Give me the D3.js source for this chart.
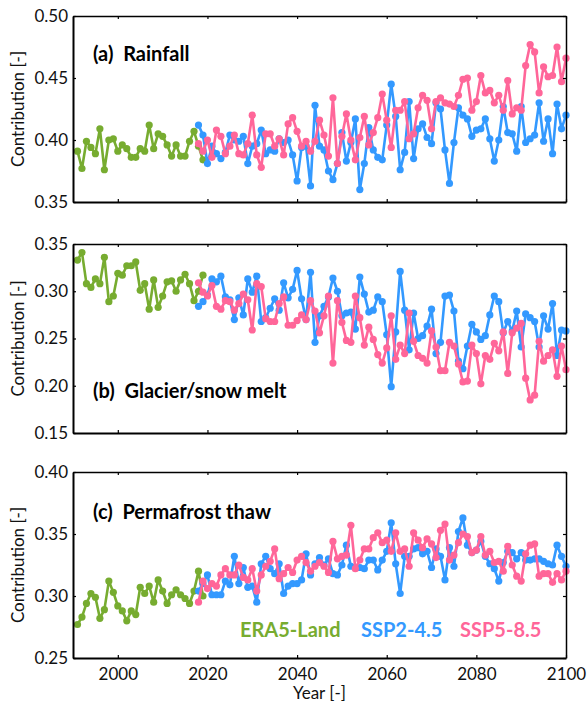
<!DOCTYPE html>
<html>
<head>
  <meta charset="utf-8">
  <script src="https://d3js.org/d3.v7.min.js"></script>
  <style>
    body { margin: 0; background: #fff; }
    text { font-family: Lato, "Open Sans", sans-serif; }
  </style>
</head>
<body>
  <div id="chart"></div>
  <script>
  // years
  var eraYears = d3.range(1991, 2020);
  var sspYears = d3.range(2018, 2101);

  // (a) Rainfall
  var rainEra = [0.391, 0.377, 0.399, 0.394, 0.389, 0.409, 0.376, 0.400, 0.401, 0.391, 0.396, 0.393, 0.386, 0.386, 0.393, 0.391, 0.412, 0.393, 0.405, 0.403, 0.396, 0.387, 0.396, 0.387, 0.387, 0.399, 0.407, 0.395, 0.384];
  var rainSsp2 = [0.412, 0.404, 0.381, 0.395, 0.389, 0.385, 0.390, 0.404, 0.400, 0.399,
    0.403, 0.381, 0.395, 0.397, 0.408, 0.389, 0.392, 0.391, 0.401, 0.398,
    0.400, 0.388, 0.367, 0.394, 0.395, 0.363, 0.428, 0.395, 0.392, 0.375,
    0.368, 0.381, 0.406, 0.383, 0.398, 0.417, 0.360, 0.381, 0.410, 0.392,
    0.386, 0.384, 0.412, 0.445, 0.419, 0.376, 0.390, 0.431, 0.385, 0.409,
    0.413, 0.402, 0.397, 0.430, 0.425, 0.392, 0.365, 0.398, 0.426, 0.420,
    0.417, 0.403, 0.408, 0.409, 0.417, 0.401, 0.383, 0.400, 0.427, 0.406,
    0.405, 0.391, 0.427, 0.398, 0.401, 0.404, 0.430, 0.399, 0.417, 0.389,
    0.429, 0.409, 0.420];
  var rainSsp5 = [0.397, 0.391, 0.400, 0.386, 0.408, 0.403, 0.389, 0.395, 0.404, 0.389,
    0.388, 0.397, 0.420, 0.388, 0.378, 0.405, 0.405, 0.395, 0.401, 0.388,
    0.413, 0.418, 0.407, 0.395, 0.399, 0.391, 0.399, 0.416, 0.404, 0.387,
    0.434, 0.381, 0.403, 0.421, 0.400, 0.384, 0.402, 0.419, 0.396, 0.406,
    0.418, 0.437, 0.416, 0.394, 0.424, 0.424, 0.431, 0.401, 0.405, 0.426,
    0.436, 0.432, 0.409, 0.431, 0.434, 0.430, 0.429, 0.427, 0.436, 0.449,
    0.450, 0.424, 0.431, 0.452, 0.438, 0.440, 0.430, 0.436, 0.424, 0.448,
    0.421, 0.426, 0.424, 0.460, 0.477, 0.471, 0.438, 0.459, 0.451, 0.452,
    0.475, 0.447, 0.466];

  // (b) Glacier/snow melt
  var meltEra = [0.333, 0.341, 0.308, 0.304, 0.313, 0.308, 0.336, 0.289, 0.295, 0.319, 0.317, 0.327, 0.327, 0.331, 0.301, 0.308, 0.281, 0.312, 0.283, 0.295, 0.310, 0.311, 0.300, 0.312, 0.318, 0.308, 0.290, 0.300, 0.317];
  var meltSsp2 = [0.284, 0.289, 0.296, 0.313, 0.310, 0.316, 0.294, 0.291, 0.270, 0.293,
    0.275, 0.313, 0.299, 0.316, 0.268, 0.272, 0.282, 0.292, 0.280, 0.309,
    0.293, 0.302, 0.322, 0.292, 0.270, 0.320, 0.246, 0.274, 0.284, 0.294,
    0.314, 0.300, 0.274, 0.277, 0.278, 0.260, 0.315, 0.297, 0.278, 0.280,
    0.294, 0.289, 0.254, 0.199, 0.257, 0.321, 0.280, 0.238, 0.277, 0.250,
    0.253, 0.263, 0.281, 0.234, 0.246, 0.295, 0.296, 0.279, 0.226, 0.218,
    0.242, 0.265, 0.257, 0.249, 0.253, 0.275, 0.295, 0.289, 0.256, 0.268,
    0.258, 0.279, 0.241, 0.276, 0.272, 0.268, 0.241, 0.274, 0.260, 0.287,
    0.232, 0.259, 0.258];
  var meltSsp5 = [0.309, 0.299, 0.295, 0.306, 0.284, 0.281, 0.290, 0.289, 0.280, 0.287,
    0.297, 0.291, 0.259, 0.308, 0.305, 0.271, 0.268, 0.268, 0.287, 0.294,
    0.264, 0.264, 0.269, 0.275, 0.270, 0.290, 0.279, 0.256, 0.274, 0.295,
    0.224, 0.290, 0.267, 0.248, 0.246, 0.295, 0.272, 0.243, 0.262, 0.249,
    0.233, 0.224, 0.240, 0.274, 0.228, 0.243, 0.234, 0.277, 0.247, 0.232,
    0.229, 0.224, 0.258, 0.241, 0.216, 0.216, 0.246, 0.242, 0.223, 0.204,
    0.205, 0.243, 0.234, 0.202, 0.232, 0.228, 0.245, 0.237, 0.257, 0.213,
    0.256, 0.261, 0.266, 0.208, 0.185, 0.190, 0.247, 0.226, 0.232, 0.238,
    0.210, 0.242, 0.217];

  // (c) Permafrost thaw
  var permEra = [0.277, 0.283, 0.294, 0.302, 0.299, 0.282, 0.289, 0.312, 0.303, 0.292, 0.288, 0.280, 0.288, 0.285, 0.307, 0.302, 0.308, 0.295, 0.313, 0.304, 0.294, 0.301, 0.305, 0.301, 0.298, 0.294, 0.304, 0.320, 0.300];
  var permSsp2 = [0.304, 0.310, 0.317, 0.301, 0.301, 0.301, 0.312, 0.309, 0.332, 0.310,
    0.323, 0.307, 0.308, 0.295, 0.326, 0.332, 0.322, 0.318, 0.326, 0.302,
    0.308, 0.310, 0.310, 0.313, 0.334, 0.317, 0.326, 0.331, 0.325, 0.330,
    0.318, 0.317, 0.325, 0.341, 0.324, 0.323, 0.323, 0.322, 0.329, 0.329,
    0.321, 0.329, 0.336, 0.359, 0.326, 0.302, 0.332, 0.332, 0.338, 0.339,
    0.334, 0.336, 0.323, 0.338, 0.332, 0.313, 0.339, 0.324, 0.352, 0.363,
    0.341, 0.335, 0.337, 0.344, 0.332, 0.326, 0.322, 0.312, 0.327, 0.336,
    0.335, 0.330, 0.335, 0.329, 0.329, 0.330, 0.330, 0.328, 0.326, 0.325,
    0.341, 0.332, 0.324];
  var permSsp5 = [0.295, 0.312, 0.306, 0.310, 0.308, 0.317, 0.322, 0.317, 0.317, 0.325,
    0.315, 0.313, 0.322, 0.304, 0.317, 0.324, 0.328, 0.338, 0.314, 0.318,
    0.323, 0.319, 0.329, 0.332, 0.327, 0.320, 0.324, 0.327, 0.324, 0.319,
    0.344, 0.330, 0.332, 0.333, 0.357, 0.322, 0.329, 0.338, 0.338, 0.347,
    0.351, 0.343, 0.345, 0.336, 0.351, 0.336, 0.338, 0.324, 0.351, 0.345,
    0.339, 0.346, 0.342, 0.331, 0.353, 0.358, 0.329, 0.333, 0.343, 0.350,
    0.348, 0.335, 0.337, 0.348, 0.333, 0.336, 0.327, 0.328, 0.320, 0.340,
    0.325, 0.316, 0.312, 0.334, 0.341, 0.342, 0.316, 0.318, 0.318, 0.311,
    0.318, 0.313, 0.320];

  var xTicks = [2000, 2020, 2040, 2060, 2080, 2100];
  var seriesNames = ["ERA5-Land", "SSP2-4.5", "SSP5-8.5"];
  var colors = ["#77ac30", "#3399ff", "#ff6699"];

  var panels = [
    { label: "(a)  Rainfall", era: rainEra, s2: rainSsp2, s5: rainSsp5, dom: [0.35, 0.50],
      ticks: [0.35, 0.40, 0.45, 0.50], top: 16, bottom: 202, labelY: 61 },
    { label: "(b)  Glacier/snow melt", era: meltEra, s2: meltSsp2, s5: meltSsp5, dom: [0.15, 0.35],
      ticks: [0.15, 0.20, 0.25, 0.30, 0.35], top: 244, bottom: 433, labelY: 398 },
    { label: "(c)  Permafrost thaw", era: permEra, s2: permSsp2, s5: permSsp5, dom: [0.25, 0.40],
      ticks: [0.25, 0.30, 0.35, 0.40], top: 472, bottom: 658, labelY: 519 }
  ];

  var width = 587, height = 704;
  var left = 73, right = 566;

  var svg = d3.select("#chart").append("svg")
      .attr("width", width)
      .attr("height", height);

  var x = d3.scaleLinear().domain([1990, 2100]).range([left, right]);

  panels.forEach(function(p, i) {
    var y = d3.scaleLinear().domain(p.dom).range([p.bottom, p.top]);
    var g = svg.append("g");

    var line = d3.line()
        .x(function(d) { return x(d[0]); })
        .y(function(d) { return y(d[1]); });

    var sets = [
      d3.zip(eraYears, p.era),
      d3.zip(sspYears, p.s2),
      d3.zip(sspYears, p.s5)
    ];

    sets.forEach(function(data, j) {
      g.append("path")
          .datum(data)
          .attr("d", line)
          .attr("fill", "none")
          .attr("stroke", colors[j])
          .attr("stroke-width", 2.6)
          .attr("stroke-linejoin", "round");
      g.selectAll(".pt" + j)
          .data(data)
        .enter().append("circle")
          .attr("class", "pt" + j)
          .attr("cx", function(d) { return x(d[0]); })
          .attr("cy", function(d) { return y(d[1]); })
          .attr("r", 3.6)
          .attr("fill", colors[j]);
    });

    // box axes, ticks pointing inward
    var bottomAxis = d3.axisBottom(x).tickValues(xTicks).tickSizeInner(-3).tickSizeOuter(0)
        .tickPadding(10).tickFormat(i == 2 ? d3.format("d") : "");
    var topAxis = d3.axisTop(x).tickValues(xTicks).tickSizeInner(-3).tickSizeOuter(0).tickFormat("");
    var leftAxis = d3.axisLeft(y).tickValues(p.ticks).tickSizeInner(-3).tickSizeOuter(0)
        .tickPadding(5).tickFormat(d3.format(".2f"));
    var rightAxis = d3.axisRight(y).tickValues(p.ticks).tickSizeInner(-3).tickSizeOuter(0).tickFormat("");

    var ga = [
      g.append("g").attr("transform", "translate(0," + p.top + ")").call(topAxis),
      g.append("g").attr("transform", "translate(" + right + ",0)").call(rightAxis),
      g.append("g").attr("transform", "translate(0," + p.bottom + ")").call(bottomAxis),
      g.append("g").attr("transform", "translate(" + left + ",0)").call(leftAxis)
    ];
    ga.forEach(function(a, k) {
      a.selectAll(".domain").attr("stroke", "#000").attr("stroke-width", k < 2 ? 1.5 : 2);
      a.selectAll(".tick line").attr("stroke", "#000").attr("stroke-width", 1.2);
      a.selectAll("text").attr("font-size", 17).attr("fill", "#111")
          .style("font-family", "Lato, sans-serif");
    });

    g.append("text")
        .attr("x", 93)
        .attr("y", p.labelY)
        .attr("font-size", 20)
        .attr("font-weight", "bold")
        .attr("fill", "#000")
        .style("white-space", "pre")
        .text(p.label);

    g.append("text")
        .attr("transform", "translate(24," + ((p.top + p.bottom) / 2) + ") rotate(-90)")
        .attr("text-anchor", "middle")
        .attr("font-size", 17)
        .attr("fill", "#111")
        .text("Contribution [-]");
  });

  svg.append("text")
      .attr("x", (left + right) / 2)
      .attr("y", 699)
      .attr("text-anchor", "middle")
      .attr("font-size", 17)
      .attr("fill", "#111")
      .text("Year [-]");

  // legend text inside panel (c)
  var legX = [240, 361, 460];
  seriesNames.forEach(function(n, j) {
    svg.append("text")
        .attr("x", legX[j])
        .attr("y", 637)
        .attr("font-size", 20)
        .attr("font-weight", "bold")
        .attr("fill", colors[j])
        .text(n);
  });
  </script>
</body>
</html>
